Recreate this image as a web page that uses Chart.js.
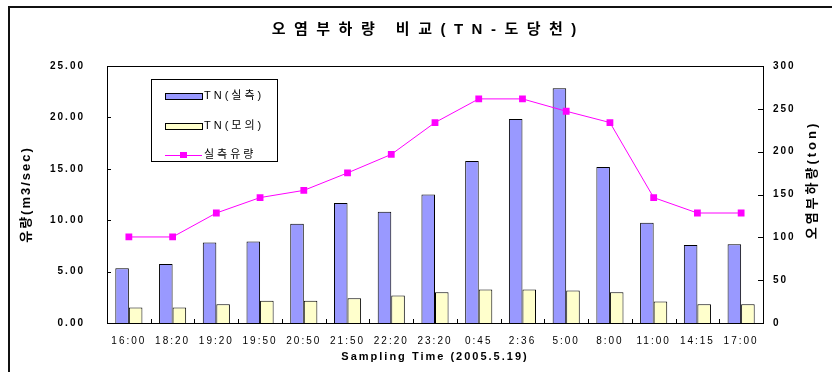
<!DOCTYPE html>
<html>
<head>
<meta charset="utf-8">
<script src="https://cdn.jsdelivr.net/npm/chart.js@4.4.1/dist/chart.umd.min.js"></script>
<style>
  html, body { margin: 0; padding: 0; background: #fff; }
  #wrap { position: relative; width: 832px; height: 372px; overflow: hidden; }
  #frame { position: absolute; left: 8px; top: 6px; width: 900px; height: 400px; border-left: 2px solid #111; border-top: 2px solid #111; }
  canvas { position: absolute; left: 0; top: 0; }
</style>
</head>
<body>
<div id="wrap">
  <div id="frame"></div>
  <canvas id="chart" width="832" height="372"></canvas>
</div>
<script>
const chartTitle = '오염부하량 비교(TN-도당천)';
const times = ['16:00', '18:20', '19:20', '19:50', '20:50', '21:50', '22:20', '23:20', '0:45', '2:36', '5:00', '8:00', '11:00', '14:15', '17:00'];

// 오염부하량 (ton) - right axis
const tnMeasured = [64, 69, 94, 95, 116, 140, 130, 150, 189, 238, 274, 182, 117, 91, 92];
const tnModel = [18, 18, 22, 26, 26, 29, 32, 36, 39, 39, 38, 36, 25, 22, 22];

// 실측 유량 (m3/sec) - left axis
const flow = [8.37, 8.37, 10.7, 12.2, 12.9, 14.6, 16.4, 19.5, 21.8, 21.8, 20.6, 19.5, 12.2, 10.7, 10.7];

const seriesNames = ['TN(실측)', 'TN(모의)', '실측유량'];
const flowTicks = [0, 5, 10, 15, 20, 25];
const loadTicks = [0, 50, 100, 150, 200, 250, 300];

const FONT = "'Liberation Sans', 'Noto Sans CJK KR', sans-serif";
Chart.defaults.font.family = FONT;
Chart.defaults.color = '#000';

// letter spacing for all canvas text (the original uses spaced type)
const spacing = {
  id: 'spacing',
  beforeDraw(chart) {
    chart.ctx.letterSpacing = '2px';
  }
};

// title, right axis title
const texts = {
  id: 'texts',
  afterDraw(chart) {
    const ctx = chart.ctx;
    ctx.save();
    ctx.fillStyle = '#000';
    ctx.textBaseline = 'middle';
    ctx.font = 'bold 15px ' + FONT;
    ctx.letterSpacing = '8.5px';
    ctx.textAlign = 'left';
    const w = ctx.measureText(chartTitle).width - 8.5;
    ctx.fillText(chartTitle, 424 - w / 2, 30);

    ctx.font = 'bold 13px ' + FONT;
    ctx.letterSpacing = '3px';
    ctx.textAlign = 'center';
    ctx.translate(812, 180);
    ctx.rotate(-Math.PI / 2);
    ctx.fillText('오염부하량(ton)', 0, 0);
    ctx.restore();
  }
};

// plot frame and inward tick marks
const frame = {
  id: 'frame',
  afterDatasetsDraw(chart) {
    const {ctx, chartArea: a, scales} = chart;
    ctx.save();
    ctx.strokeStyle = '#000';
    ctx.lineWidth = 1;
    ctx.beginPath();
    scales.y.ticks.forEach(t => {
      const py = Math.round(scales.y.getPixelForValue(t.value)) + 0.5;
      ctx.moveTo(a.left, py);
      ctx.lineTo(a.left + 4, py);
    });
    scales.y1.ticks.forEach(t => {
      const py = Math.round(scales.y1.getPixelForValue(t.value)) + 0.5;
      ctx.moveTo(a.right - 5, py);
      ctx.lineTo(a.right, py);
    });
    for (let i = 1; i < times.length; i++) {
      const px = Math.round((scales.x.getPixelForTick(i - 1) + scales.x.getPixelForTick(i)) / 2) + 0.5;
      ctx.moveTo(px, a.bottom);
      ctx.lineTo(px, a.bottom - 4);
    }
    ctx.stroke();
    ctx.strokeRect(Math.round(a.left) + 0.5, Math.round(a.top) + 0.5, Math.round(a.right - a.left), Math.round(a.bottom - a.top));
    ctx.restore();
  }
};

// legend box inside the plot
const legendBox = {
  id: 'legendBox',
  afterDraw(chart) {
    const ctx = chart.ctx;
    const a = chart.chartArea;
    const x = Math.round(a.left) + 44, y = Math.round(a.top) + 13, w = 126, h = 82;
    ctx.save();
    ctx.fillStyle = '#fff';
    ctx.fillRect(x, y, w, h);
    ctx.strokeStyle = '#000';
    ctx.lineWidth = 1;
    ctx.strokeRect(x + 0.5, y + 0.5, w, h);
    ctx.font = '11px ' + FONT;
    ctx.letterSpacing = '3px';
    ctx.textBaseline = 'middle';
    ctx.textAlign = 'left';
    chart.data.datasets.forEach((ds, i) => {
      const ry = y + 17 + Math.round(i * 29.5);
      const sx = x + 14;
      if (ds.type === 'line') {
        ctx.strokeStyle = ds.borderColor;
        ctx.beginPath();
        ctx.moveTo(sx, ry + 0.5);
        ctx.lineTo(sx + 37, ry + 0.5);
        ctx.stroke();
        ctx.fillStyle = ds.backgroundColor;
        ctx.fillRect(sx + 15, ry - 3, 7, 6);
      } else {
        ctx.fillStyle = ds.backgroundColor;
        ctx.fillRect(sx, ry - 3, 37, 6);
        ctx.strokeStyle = '#000';
        ctx.strokeRect(sx + 0.5, ry - 2.5, 37, 6);
      }
      ctx.fillStyle = '#000';
      ctx.fillText(ds.label, sx + 39, ry);
    });
    ctx.restore();
  }
};

new Chart(document.getElementById('chart'), {
  data: {
    labels: times,
    datasets: [
      {
        type: 'bar',
        label: seriesNames[0],
        data: tnMeasured,
        yAxisID: 'y1',
        backgroundColor: '#9999FF',
        borderColor: '#000',
        borderWidth: 1,
        categoryPercentage: 0.62,
        barPercentage: 1.0,
        order: 1
      },
      {
        type: 'bar',
        label: seriesNames[1],
        data: tnModel,
        yAxisID: 'y1',
        backgroundColor: '#FFFFCC',
        borderColor: '#000',
        borderWidth: 1,
        categoryPercentage: 0.62,
        barPercentage: 1.0,
        order: 1
      },
      {
        type: 'line',
        label: seriesNames[2],
        data: flow,
        yAxisID: 'y',
        borderColor: '#FF00FF',
        backgroundColor: '#FF00FF',
        borderWidth: 1,
        pointStyle: 'rect',
        pointRadius: 4.8,
        pointBorderWidth: 0,
        tension: 0,
        order: 0
      }
    ]
  },
  options: {
    responsive: false,
    animation: false,
    devicePixelRatio: 1,
    layout: { padding: { top: 66, left: 0, right: 0, bottom: 0 } },
    plugins: {
      legend: { display: false },
      title: { display: false },
      tooltip: { enabled: false }
    },
    scales: {
      x: {
        offset: true,
        grid: { display: false, drawTicks: false },
        border: { display: false },
        ticks: { autoSkip: false, maxRotation: 0, padding: 12, font: { size: 10 } },
        title: { display: true, text: 'Sampling Time (2005.5.19)', font: { size: 11, weight: 'bold' }, padding: { top: 0, bottom: 8 } },
        afterFit(s) { s.height = 49; }
      },
      y: {
        position: 'left',
        min: 0,
        max: 25,
        grid: { display: false, drawTicks: false },
        border: { display: false },
        afterBuildTicks(s) { s.ticks = flowTicks.map(v => ({ value: v })); },
        ticks: { padding: 22, font: { size: 10, weight: 'bold' }, callback: v => Number(v).toFixed(2) },
        title: { display: true, text: '유량(m3/sec)', font: { size: 13, weight: 'bold' }, padding: { top: 19, bottom: 0 } },
        afterFit(s) { s.width = 107; }
      },
      y1: {
        position: 'right',
        min: 0,
        max: 300,
        grid: { display: false, drawTicks: false },
        border: { display: false },
        afterBuildTicks(s) { s.ticks = loadTicks.map(v => ({ value: v })); },
        ticks: { padding: 10, font: { size: 10, weight: 'bold' } },
        afterFit(s) { s.width = 69; }
      }
    }
  },
  plugins: [spacing, frame, legendBox, texts]
});
</script>
</body>
</html>
